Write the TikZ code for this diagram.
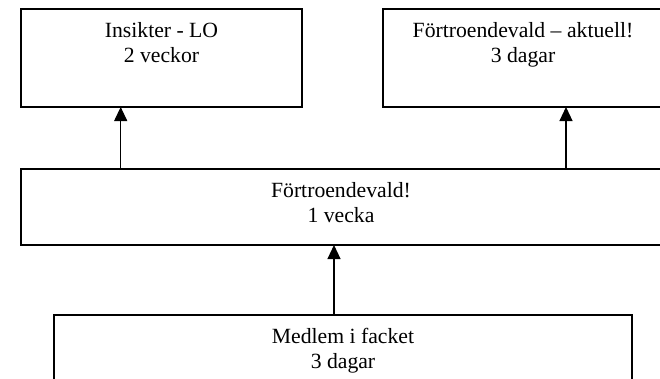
\documentclass[tikz,border=0pt]{standalone}
\usepackage{fontspec}
\setmainfont{Liberation Serif}
\usetikzlibrary{arrows.meta}
\newcommand{\boxtext}[3]{\parbox[b][#2pt][t]{#1pt}{\centering\rule{0pt}{28.5pt}#3}}
\begin{document}
\begin{tikzpicture}[x=1pt,y=-1pt,
  box/.style={draw=black, line width=1.1pt, inner sep=0pt, outer sep=0pt, anchor=north west,
    font=\fontsize{21.7}{25}\selectfont},
  arr/.style={line width=1.1pt, -{Triangle[length=14pt,width=13pt]}}]
\fill[white] (0,0) rectangle (660,378);
\useasboundingbox (0,0) rectangle (660,378);
\clip (0,0) rectangle (660,378);
\node[box] (lo)  at (21,9)   {\boxtext{281}{98}{Insikter - LO\\2 veckor}};
\node[box] (akt) at (383,9)  {\boxtext{280}{98}{Förtroendevald – aktuell!\\3 dagar}};
\node[box] (mid) at (21,169) {\boxtext{640}{76}{Förtroendevald!\\1 vecka}};
\node[box] (med) at (54,315) {\boxtext{578}{80}{Medlem i facket\\3 dagar}};
\draw[arr] ([xshift=99.7pt]mid.north west) -- ([xshift=99.7pt]lo.south west);
\draw[arr] ([xshift=545pt]mid.north west) -- ([xshift=183pt]akt.south west);
\draw[arr] ([xshift=280pt]med.north west) -- ([xshift=313pt]mid.south west);
\end{tikzpicture}
\end{document}
